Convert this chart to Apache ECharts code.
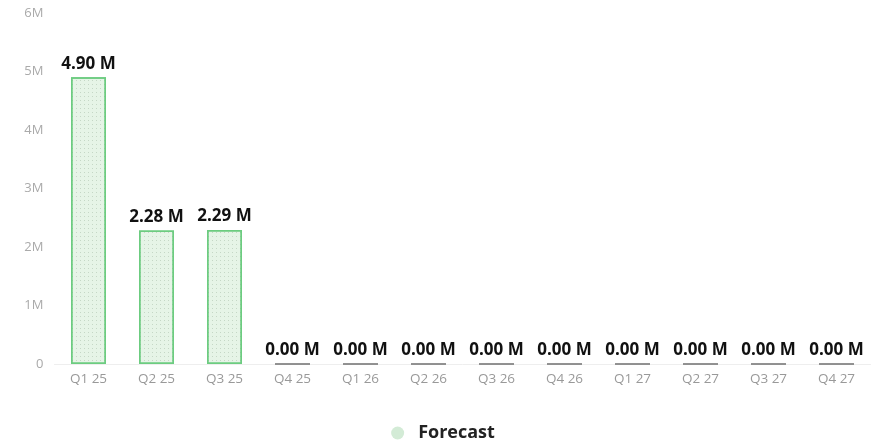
<!DOCTYPE html>
<html>
<head>
<meta charset="utf-8">
<script src="https://cdn.jsdelivr.net/npm/echarts@6/dist/echarts.min.js"></script>
<style>
html,body{margin:0;padding:0;background:#fff;}
#chart{width:886px;height:446px;}
</style>
</head>
<body>
<div id="chart"></div>
<script>
var categories = ['Q1 25','Q2 25','Q3 25','Q4 25','Q1 26','Q2 26','Q3 26','Q4 26','Q1 27','Q2 27','Q3 27','Q4 27'];
var forecastValues = [4.90, 2.28, 2.29, 0, 0, 0, 0, 0, 0, 0, 0, 0];
var yTickLabels = ['0','1M','2M','3M','4M','5M','6M'];
var seriesName = 'Forecast';

var chart = echarts.init(document.getElementById('chart'));
var barData = forecastValues.map(function(v){
  if (v === 0) {
    return {value: v, itemStyle: {borderColor: '#8a8a8a', borderWidth: 1}};
  }
  return v;
});
chart.setOption({
  animation: false,
  textStyle: {fontFamily: 'Open Sans'},
  grid: {left: 54.5, right: 15.5, top: 13, bottom: 82, containLabel: false},
  legend: {
    top: 419,
    left: 'center',
    icon: 'circle',
    itemWidth: 13,
    itemHeight: 13,
    itemGap: 12,
    itemStyle: {borderWidth: 0, color: '#d3ebd6', decal: 'none'},
    textStyle: {fontSize: 18, fontWeight: 'bold', color: '#222', fontFamily: 'Open Sans', padding: [0, 0, 0, 9]},
    data: [seriesName]
  },
  xAxis: {
    type: 'category',
    data: categories,
    axisLine: {show: true, lineStyle: {color: '#eeeeee'}},
    axisTick: {show: false},
    axisLabel: {color: '#999', fontSize: 13.5, margin: 8}
  },
  yAxis: {
    type: 'value',
    min: 0,
    max: 6,
    interval: 1,
    splitLine: {show: false},
    axisLine: {show: false},
    axisTick: {show: false},
    axisLabel: {
      color: '#aaa', fontSize: 13, margin: 11,
      formatter: function(v){ return yTickLabels[Math.round(v)]; }
    }
  },
  series: [{
    name: seriesName,
    type: 'bar',
    data: barData,
    barWidth: 35,
    itemStyle: {
      color: '#e6f4e7',
      borderColor: '#6ccc80',
      borderWidth: 1.5,
      decal: {
        symbol: 'rect',
        symbolSize: 1,
        color: 'rgba(110,140,115,0.28)',
        dashArrayX: [1, 3],
        dashArrayY: [1, 3],
        rotation: 0
      }
    },
    label: {
      show: true,
      position: 'top',
      distance: 5,
      fontSize: 17,
      fontWeight: 'bold',
      color: '#111',
      fontFamily: 'Open Sans',
      formatter: function(p){ return forecastValues[p.dataIndex].toFixed(2) + ' M'; }
    }
  }]
});
</script>
</body>
</html>
